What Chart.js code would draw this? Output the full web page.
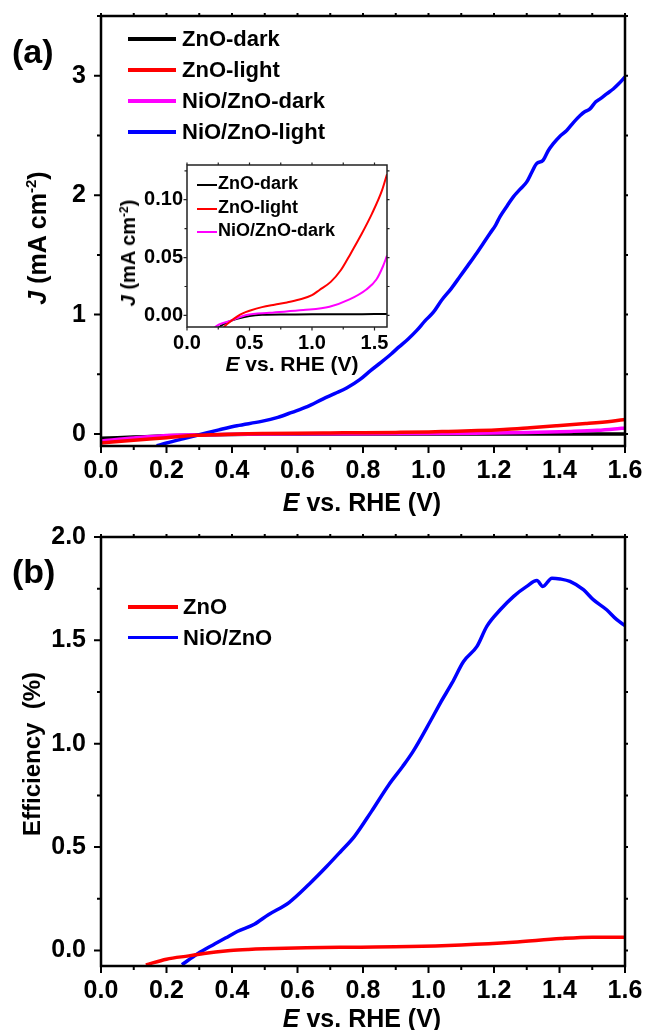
<!DOCTYPE html>
<html><head><meta charset="utf-8">
<script src="https://cdn.jsdelivr.net/npm/chart.js@4.4.1/dist/chart.umd.min.js"></script>
<style>
html,body{margin:0;padding:0;background:#fff;}
body{width:646px;height:1030px;position:relative;overflow:hidden;font-family:'Liberation Sans',Arial,Helvetica,sans-serif;font-weight:bold;color:#000;}
canvas{position:absolute;}
.t{position:absolute;white-space:nowrap;line-height:1;}
.rot{transform:translate(-50%,-50%) rotate(-90deg);}
.cx{transform:translateX(-50%);}
.lg{position:absolute;}
sup{font-size:0.6em;line-height:0;vertical-align:0.62em;}
</style></head><body>
<canvas id="ca" width="646" height="520" style="left:0;top:0;width:646px;height:520px"></canvas>
<canvas id="cb" width="646" height="510" style="left:0;top:520px;width:646px;height:510px"></canvas>
<canvas id="ci" width="260" height="210" style="left:135px;top:155px;width:260px;height:210px"></canvas>

<div class="t" style="left:12px;top:34px;font-size:34px">(a)</div>
<div class="t" style="left:12px;top:554px;font-size:34px">(b)</div>

<div class="t rot" style="left:37px;top:238px;font-size:25px"><i>J</i> (mA cm<sup>-2</sup>)</div>
<div class="t rot" style="left:32px;top:754px;font-size:24px">Efficiency&nbsp; (%)</div>
<div class="t cx" style="left:362px;top:490px;font-size:25px"><i>E</i> vs. RHE (V)</div>
<div class="t cx" style="left:362px;top:1006px;font-size:25px"><i>E</i> vs. RHE (V)</div>

<div class="t cx" style="left:292px;top:353px;font-size:21px"><i>E</i> vs. RHE (V)</div>
<div class="t rot" style="left:128px;top:253px;font-size:20px"><i>J</i> (mA cm<sup>-2</sup>)</div>

<!-- legend (a) -->
<div class="lg" style="left:128px;top:37.2px;width:48px;height:3.5px;background:#000"></div>
<div class="t" style="left:182px;top:28.3px;font-size:22px">ZnO-dark</div>
<div class="lg" style="left:128px;top:68.2px;width:48px;height:3.5px;background:#ff0000"></div>
<div class="t" style="left:182px;top:59.3px;font-size:22px">ZnO-light</div>
<div class="lg" style="left:128px;top:99.2px;width:48px;height:3.5px;background:#ff00ff"></div>
<div class="t" style="left:182px;top:90.3px;font-size:22px">NiO/ZnO-dark</div>
<div class="lg" style="left:128px;top:130.2px;width:48px;height:3.5px;background:#0000ff"></div>
<div class="t" style="left:182px;top:121.3px;font-size:22px">NiO/ZnO-light</div>

<!-- legend inset -->
<div class="lg" style="left:197px;top:184px;width:20px;height:2px;background:#000"></div>
<div class="t" style="left:218px;top:174px;font-size:18px">ZnO-dark</div>
<div class="lg" style="left:197px;top:208px;width:20px;height:2px;background:#ff0000"></div>
<div class="t" style="left:218px;top:198px;font-size:18px">ZnO-light</div>
<div class="lg" style="left:197px;top:231px;width:20px;height:2px;background:#ff00ff"></div>
<div class="t" style="left:218px;top:221px;font-size:18px">NiO/ZnO-dark</div>

<!-- legend (b) -->
<div class="lg" style="left:128px;top:605px;width:50px;height:3.5px;background:#ff0000"></div>
<div class="t" style="left:183px;top:596px;font-size:22px">ZnO</div>
<div class="lg" style="left:128px;top:635.5px;width:50px;height:3.5px;background:#0000ff"></div>
<div class="t" style="left:183px;top:626.6px;font-size:22px">NiO/ZnO</div>

<script>
// ---------- data ----------
// Panel (a): current density J (mA cm-2) vs E (V vs RHE)
const znoDarkE  = [0, 0.1, 0.2, 0.3, 0.4, 0.5, 0.6, 0.8, 1.0, 1.2, 1.4, 1.6];
const znoDarkJ  = [-0.035, -0.025, -0.015, -0.007, -0.003, -0.0005, 0.0005, 0.0008, 0.001, 0.001, 0.0011, 0.0012];

const znoLightE = [0, 0.1, 0.2, 0.29, 0.35, 0.4, 0.45, 0.5, 0.6, 0.7, 0.8, 0.9, 1.0, 1.06, 1.15, 1.23, 1.31, 1.39, 1.48, 1.56, 1.6];
const znoLightJ = [-0.074, -0.052, -0.031, -0.011, -0.005, -0.001, 0.002, 0.004, 0.0072, 0.0093, 0.0112, 0.0137, 0.0175, 0.022, 0.029, 0.039, 0.0536, 0.069, 0.088, 0.108, 0.122];

const nioDarkE  = [0, 0.1, 0.22, 0.34, 0.475, 0.66, 0.93, 1.14, 1.3, 1.435, 1.515, 1.568, 1.6];
const nioDarkJ  = [-0.058, -0.033, -0.0106, -0.005, 0.0003, 0.0023, 0.0046, 0.0075, 0.0138, 0.0224, 0.031, 0.0425, 0.0517];

const nioLightE = [0.17, 0.2, 0.25, 0.3, 0.36, 0.415, 0.49, 0.54, 0.583, 0.63, 0.677, 0.715, 0.75, 0.79, 0.823, 0.855, 0.886, 0.91, 0.938, 0.965, 0.99, 1.015, 1.04, 1.07, 1.096, 1.12, 1.147, 1.168, 1.188, 1.205, 1.218, 1.24, 1.259, 1.28, 1.3, 1.315, 1.33, 1.35, 1.365, 1.381, 1.4, 1.422, 1.443, 1.463, 1.478, 1.493, 1.51, 1.524, 1.545, 1.564, 1.58, 1.6];
const nioLightJ = [-0.098, -0.075, -0.04, -0.006, 0.035, 0.07, 0.106, 0.14, 0.182, 0.23, 0.293, 0.34, 0.385, 0.455, 0.531, 0.6, 0.67, 0.73, 0.796, 0.87, 0.95, 1.02, 1.12, 1.22, 1.319, 1.41, 1.514, 1.6, 1.681, 1.75, 1.819, 1.91, 1.986, 2.05, 2.111, 2.19, 2.264, 2.292, 2.37, 2.431, 2.49, 2.542, 2.61, 2.667, 2.7, 2.722, 2.78, 2.806, 2.85, 2.889, 2.93, 2.99];

// Panel (b): photoconversion efficiency (%) vs E
const znoEffE = [0.137, 0.2, 0.268, 0.31, 0.35, 0.395, 0.45, 0.5, 0.626, 0.784, 0.942, 1.1, 1.258, 1.405, 1.5, 1.6];
const znoEff  = [-0.07, -0.042, -0.026, -0.016, -0.007, 0.0, 0.005, 0.008, 0.013, 0.016, 0.019, 0.027, 0.04, 0.058, 0.0645, 0.0645];

const nioEffE = [0.247, 0.295, 0.342, 0.38, 0.416, 0.468, 0.511, 0.574, 0.637, 0.689, 0.732, 0.774, 0.826, 0.879, 0.921, 0.953, 1.006, 1.036, 1.072, 1.107, 1.148, 1.178, 1.219, 1.26, 1.3, 1.331, 1.349, 1.377, 1.402, 1.432, 1.473, 1.503, 1.544, 1.575, 1.6];
const nioEff  = [-0.069, -0.016, 0.027, 0.06, 0.092, 0.127, 0.173, 0.232, 0.323, 0.406, 0.479, 0.552, 0.673, 0.802, 0.89, 0.963, 1.11, 1.197, 1.294, 1.398, 1.471, 1.568, 1.648, 1.713, 1.761, 1.789, 1.761, 1.801, 1.797, 1.785, 1.745, 1.697, 1.648, 1.6, 1.571];

// tick settings
const xTicksMain = {min: 0, max: 1.6, step: 0.1, label: 0.2, digits: 1};
const yTicksA    = {min: -0.1, max: 3.5, step: 0.5, label: 1, digits: 0};
const yTicksB    = {min: -0.075, max: 2.0, step: 0.25, label: 0.5, digits: 1};
const xTicksIn   = {min: 0, max: 1.6, step: 0.25, label: 0.5, digits: 1};
const yTicksIn   = {min: -0.01, max: 0.13, step: 0.025, label: 0.05, digits: 2};

// ---------- helpers ----------
const FONT = "'Liberation Sans', Arial, Helvetica, sans-serif";
Chart.defaults.font.family = FONT;
const pts = (xs, ys) => xs.map((x, i) => ({x, y: ys[i]}));
const isMult = (v, s) => Math.abs(v / s - Math.round(v / s)) < 1e-6;

function ds(label, xs, ys, color, width, order) {
  return {label, data: pts(xs, ys), borderColor: color, backgroundColor: color,
    borderWidth: width, pointRadius: 0, fill: false, cubicInterpolationMode: 'monotone',
    clip: 0, order};
}

function axis(t, pos, size, pad, fit) {
  return {
    type: 'linear', position: pos, min: t.min, max: t.max,
    grid: {display: false, drawTicks: false}, border: {display: false},
    ticks: {stepSize: t.step, includeBounds: false, autoSkip: false, maxRotation: 0, minRotation: 0,
      padding: pad, color: '#000', font: {family: FONT, size, weight: 'bold'},
      callback: v => isMult(v, t.label) ? Number(v).toFixed(t.digits) : ''},
    afterFit: s => { fit(s); s.paddingTop = 0; s.paddingBottom = 0; s.paddingLeft = 0; s.paddingRight = 0; }
  };
}

const frame = {
  id: 'frame',
  afterDraw(chart, args, o) {
    const {ctx, chartArea: a} = chart;
    const xs = chart.scales.x, ys = chart.scales.y;
    ctx.save();
    ctx.strokeStyle = o.color;
    ctx.lineWidth = o.tickWidth;
    ctx.beginPath();
    xs.ticks.forEach(t => {
      const p = xs.getPixelForValue(t.value);
      const L = t.label ? o.major : o.minor;
      ctx.moveTo(p, a.bottom); ctx.lineTo(p, a.bottom + L);
      ctx.moveTo(p, a.top); ctx.lineTo(p, a.top - o.mirror);
    });
    ys.ticks.forEach(t => {
      const p = ys.getPixelForValue(t.value);
      const L = t.label ? o.major : o.minor;
      ctx.moveTo(a.left, p); ctx.lineTo(a.left - L, p);
      ctx.moveTo(a.right, p); ctx.lineTo(a.right + o.mirror, p);
    });
    ctx.stroke();
    ctx.lineWidth = o.width;
    ctx.strokeRect(a.left, a.top, a.right - a.left, a.bottom - a.top);
    ctx.restore();
  }
};

function baseOpts(padding, frameOpts, scales) {
  return {
    responsive: false, animation: false, devicePixelRatio: 1,
    layout: {padding},
    plugins: {legend: {display: false}, tooltip: {enabled: false}, frame: frameOpts},
    scales
  };
}

// ---------- panel (a) ----------
new Chart(document.getElementById('ca'), {
  type: 'line',
  data: {datasets: [
    ds('ZnO-dark', znoDarkE, znoDarkJ, '#000000', 3.5, 3),
    ds('ZnO-light', znoLightE, znoLightJ, '#ff0000', 3.5, 0),
    ds('NiO/ZnO-dark', nioDarkE, nioDarkJ, '#ff00ff', 3.5, 2),
    ds('NiO/ZnO-light', nioLightE, nioLightJ, '#0000ff', 3.5, 1)
  ]},
  options: baseOpts({left: 0, top: 16, right: 21, bottom: 0},
    {color: '#000', width: 2.5, tickWidth: 2, major: 7, minor: 4, mirror: 3},
    {x: axis(xTicksMain, 'bottom', 25, 10, s => { s.height = 74; }),
     y: axis(yTicksA, 'left', 25, 15, s => { s.width = 101; })}),
  plugins: [frame]
});

// ---------- panel (b) ----------
new Chart(document.getElementById('cb'), {
  type: 'line',
  data: {datasets: [
    ds('ZnO', znoEffE, znoEff, '#ff0000', 3.5, 0),
    ds('NiO/ZnO', nioEffE, nioEff, '#0000ff', 3.5, 1)
  ]},
  options: baseOpts({left: 0, top: 17, right: 21, bottom: 0},
    {color: '#000', width: 2.5, tickWidth: 2, major: 7, minor: 4, mirror: 3},
    {x: axis(xTicksMain, 'bottom', 25, 10, s => { s.height = 64; }),
     y: axis(yTicksB, 'left', 25, 15, s => { s.width = 101; })}),
  plugins: [frame]
});

// ---------- inset ----------
new Chart(document.getElementById('ci'), {
  type: 'line',
  data: {datasets: [
    ds('ZnO-dark', znoDarkE, znoDarkJ, '#000000', 2, 2),
    ds('ZnO-light', znoLightE, znoLightJ, '#ff0000', 2, 0),
    ds('NiO/ZnO-dark', nioDarkE, nioDarkJ, '#ff00ff', 2, 1)
  ]},
  options: baseOpts({left: 0, top: 10, right: 8, bottom: 0},
    {color: '#222', width: 1.5, tickWidth: 1.2, major: 3.5, minor: 2.5, mirror: 2.5},
    {x: axis(xTicksIn, 'bottom', 20, 4, s => { s.height = 38; }),
     y: axis(yTicksIn, 'left', 20, 4, s => { s.width = 52; })}),
  plugins: [frame]
});
</script>
</body></html>
